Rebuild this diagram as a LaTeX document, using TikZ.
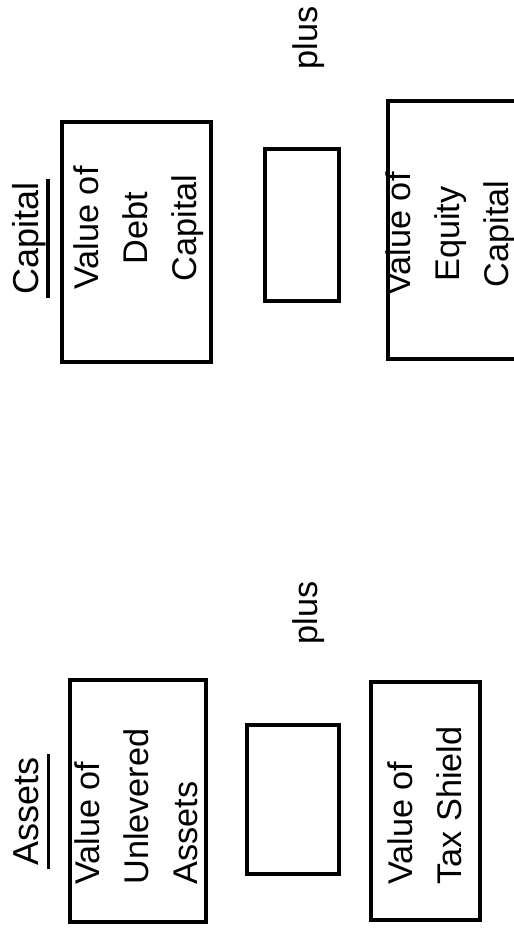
\documentclass[tikz,border=0pt]{standalone}
\usepackage{fontspec}
\setmainfont{Liberation Sans}
\usepackage{tikz}
\usetikzlibrary{calc}

\begin{document}
\begin{tikzpicture}[
  box/.style={draw, line width=2.3pt, inner sep=0pt},
  txt/.style={rotate=90, inner sep=0pt, font=\fontsize{19.5}{27.9}\selectfont},
  head/.style={rotate=90, anchor=base, inner ysep=0pt, inner xsep=1.7pt, font=\fontsize{20.5}{24}\selectfont},
  ul/.style={line width=2.2pt}
]
\clip (0,0) rectangle (10.28,-18.68);

% capital side (top)
\node[head] (capt) at (0.77,-4.77) {Capital};
\draw[ul] ($(capt.base west)+(0.19,0)$) -- ($(capt.base east)+(0.19,0)$);
\node[box, minimum width=2.98cm, minimum height=4.80cm] (debt) at (2.73,-4.84) {};
\node[txt, anchor=north, align=center] (debttxt) at (1.46,-4.56) {Value of\\Debt\\Capital};
\node[txt, anchor=north] (plustop) at (5.84,-0.76) {plus};
\node[box, minimum width=1.48cm, minimum height=3.04cm] (blankc) at (6.04,-4.50) {};
\node[box, minimum width=4.24cm, minimum height=5.16cm] (equity) at (9.88,-4.60) {};
\node[txt, anchor=north, align=center] (eqtxt) at (7.70,-4.68) {Value of\\Equity\\Capital};

% assets side (bottom)
\node[head] (asst) at (0.78,-16.23) {Assets};
\draw[ul] ($(asst.base west)+(0.19,0)$) -- ($(asst.base east)+(0.19,0)$);
\node[box, minimum width=2.72cm, minimum height=4.84cm] (unlev) at (2.76,-16.02) {};
\node[txt, anchor=north west, align=left] (unlevtxt) at (1.48,-17.70) {Value of\\Unlevered\\Assets};
\node[txt, anchor=north] (plusbot) at (5.84,-12.26) {plus};
\node[box, minimum width=1.84cm, minimum height=2.98cm] (blanka) at (5.86,-15.99) {};
\node[box, minimum width=2.18cm, minimum height=4.76cm] (taxsh) at (8.51,-16.02) {};
\node[txt, anchor=north west, align=left] (taxtxt) at (7.74,-17.70) {Value of\\Tax Shield};
\end{tikzpicture}
\end{document}
